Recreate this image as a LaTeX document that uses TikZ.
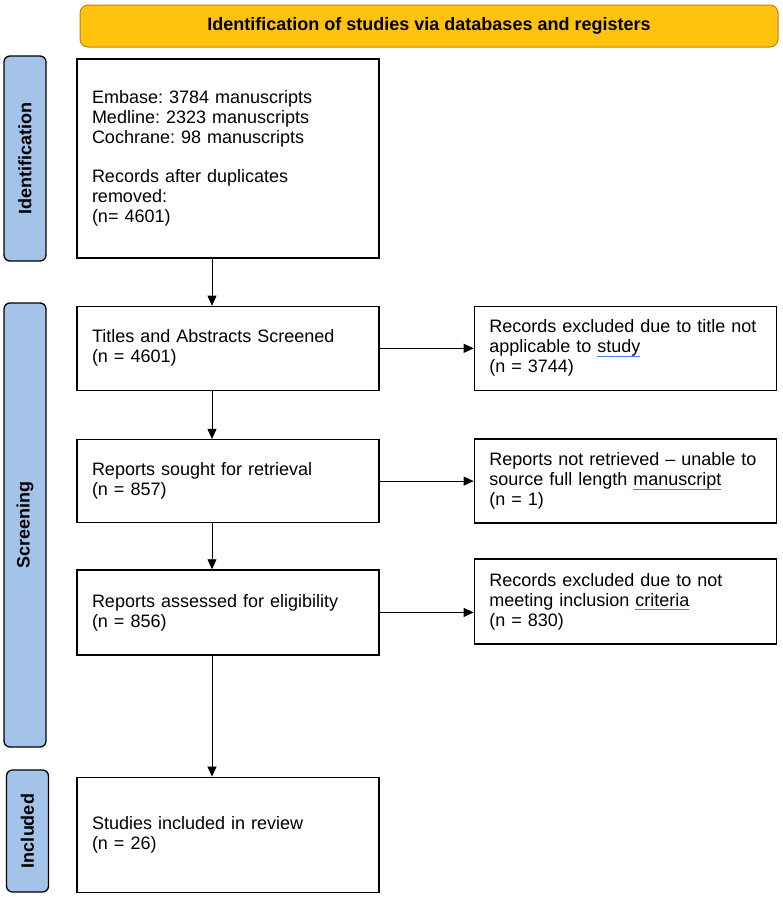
\documentclass[tikz,border=0pt]{standalone}
\usepackage{fontspec}
\setmainfont{Liberation Sans}
\frenchspacing
\usetikzlibrary{arrows.meta, positioning}
\definecolor{headgold}{HTML}{FFC20E}
\definecolor{headedge}{HTML}{B8860B}
\definecolor{barblue}{HTML}{A3C4E8}
\definecolor{squigblue}{HTML}{4A7BE0}
\newcommand{\spellmark}[1]{\setbox0\hbox{#1}\rlap{\color{squigblue}\rule[-4pt]{\wd0}{1pt}}\box0}
\tikzset{
  box/.style={rectangle,draw,line width=1.3pt,align=left,text width=272pt,inner xsep=15pt,inner ysep=0pt,font=\fontsize{18}{20}\selectfont},
  side/.style={rectangle,draw,rounded corners=6pt,fill=barblue,line width=1.3pt,minimum height=42pt,font=\fontsize{18}{20}\selectfont\bfseries},
  head/.style={rectangle,draw=headedge,fill=headgold,rounded corners=8pt,line width=1pt,minimum width=698pt,minimum height=42pt,font=\fontsize{18}{20}\selectfont\bfseries},
  line/.style={-{Triangle[length=10pt,width=9pt]},line width=0.8pt}
}

\begin{document}
\begin{tikzpicture}[x=1pt,y=-1pt]
\useasboundingbox (0,0) rectangle (782,897);
\node[head] (title) at (429,26) {Identification of studies via databases and registers};
\node[side, rotate=90, minimum width=205pt] (idbar) at (25,158.5) {Identification};
\node[side, rotate=90, minimum width=444pt] (scbar) at (25,525) {Screening};
\node[side, rotate=90, minimum width=122pt] (inbar) at (27.5,831) {Included};
\node[box, minimum height=199pt] (recs) at (228,158.5) {Embase: 3784 manuscripts\\ Medline: 2323 manuscripts\\ Cochrane: 98 manuscripts\\[19pt] Records after duplicates\\ removed:\\ (n= 4601)};
\node[box, minimum height=84pt, below=47pt of recs] (screen) {Titles and Abstracts Screened\\ (n = 4601)};
\node[box, minimum height=83pt, below=48pt of screen] (sought) {Reports sought for retrieval\\ (n = 857)};
\node[box, minimum height=85pt, below=46pt of sought] (assess) {Reports assessed for eligibility\\ (n = 856)};
\node[box, minimum height=115pt, below=121pt of assess] (incl) {Studies included in review\\ (n = 26)};
\node[box, minimum height=84pt, right=94pt of screen] (excl1) {Records excluded due to title not\\ applicable to \spellmark{study}\\ (n = 3744)};
\node[box, minimum height=84pt, right=94pt of sought] (notret) {Reports not retrieved -- unable to\\ source full length \spellmark{manuscript}\\ (n = 1)};
\node[box, minimum height=85pt, right=94pt of assess, yshift=11pt] (excl2) {Records excluded due to not\\ meeting inclusion \spellmark{criteria}\\ (n = 830)};
\draw[line] ([xshift=-16pt]recs.south) -- ([xshift=-16pt]screen.north);
\draw[line] ([xshift=-16pt]screen.south) -- ([xshift=-16pt]sought.north);
\draw[line] ([xshift=-16pt]sought.south) -- ([xshift=-16pt]assess.north);
\draw[line] ([xshift=-16pt]assess.south) -- ([xshift=-16pt]incl.north);
\draw[line] (screen.east) -- (excl1.west);
\draw[line] (sought.east) -- (notret.west);
\draw[line] (assess.east) -- (assess.east -| excl2.west);
\end{tikzpicture}
\end{document}
